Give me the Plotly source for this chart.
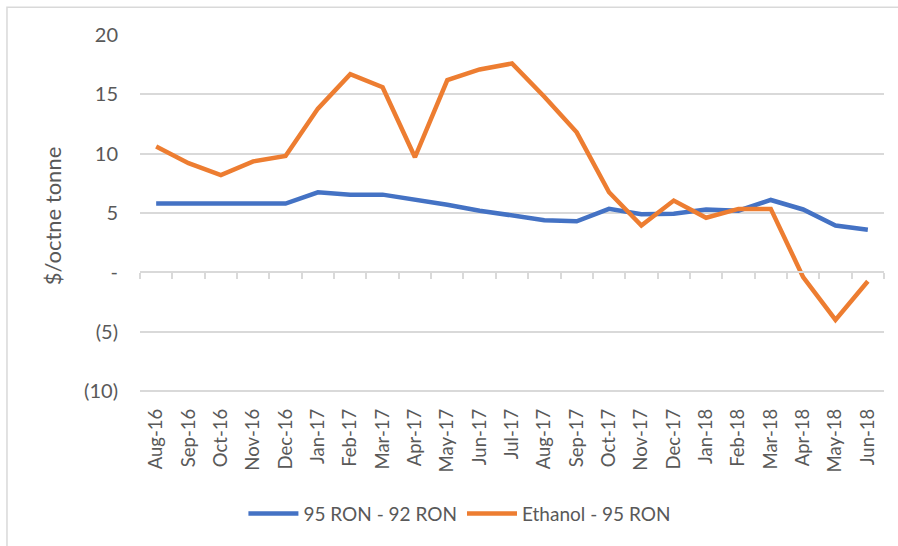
import plotly.graph_objects as go

months = ["Aug-16", "Sep-16", "Oct-16", "Nov-16", "Dec-16", "Jan-17", "Feb-17", "Mar-17",
          "Apr-17", "May-17", "Jun-17", "Jul-17", "Aug-17", "Sep-17", "Oct-17", "Nov-17",
          "Dec-17", "Jan-18", "Feb-18", "Mar-18", "Apr-18", "May-18", "Jun-18"]

ron95_92 = [5.8, 5.8, 5.8, 5.8, 5.8, 6.75, 6.55, 6.55, 6.15, 5.7, 5.2, 4.8, 4.4, 4.3,
            5.35, 4.9, 4.95, 5.3, 5.2, 6.1, 5.3, 3.95, 3.6]

ethanol_95 = [10.6, 9.2, 8.2, 9.35, 9.8, 13.8, 16.7, 15.6, 9.7, 16.2, 17.1, 17.6, 14.8,
              11.8, 6.75, 3.95, 6.05, 4.6, 5.35, 5.35, -0.4, -4.0, -0.75]

y_tickvals = [20, 15, 10, 5, 0, -5, -10]
y_ticktext = ["20", "15", "10", "5", "-", "(5)", "(10)"]

FONT = "Lato"
TXT = "#595959"
GRID = "#d9d9d9"
Y_MIN, Y_MAX = -10.5, 20

fig = go.Figure()
fig.add_trace(go.Scatter(x=months, y=ron95_92, mode="lines", name="95 RON - 92 RON",
                         line=dict(color="#4472C4", width=4.5)))
fig.add_trace(go.Scatter(x=months, y=ethanol_95, mode="lines", name="Ethanol - 95 RON",
                         line=dict(color="#ED7D31", width=4.5)))
# dummy trace for the zero-line axis with boundary ticks
fig.add_trace(go.Scatter(x=months, y=[None] * len(months), xaxis="x2", showlegend=False,
                         hoverinfo="skip", mode="lines"))

fig.update_layout(
    width=898, height=546,
    margin=dict(l=140, r=14, t=35, b=149),
    paper_bgcolor="white", plot_bgcolor="white",
    font=dict(family=FONT, color=TXT, size=18),
    showlegend=True,
    legend=dict(orientation="h", x=0.43, xanchor="center", y=-0.322, yanchor="middle",
                font=dict(size=19, color=TXT), itemwidth=50),
    xaxis=dict(type="category", categoryarray=months, range=[-0.5, len(months) - 0.5],
               tickangle=-90, showgrid=False, zeroline=False, showline=False, ticks="",
               tickfont=dict(size=18.5, color=TXT), ticklabelstandoff=7),
    xaxis2=dict(type="category", categoryarray=months, range=[-0.5, len(months) - 0.5],
                overlaying="x", anchor="free", position=(0 - Y_MIN) / (Y_MAX - Y_MIN),
                showticklabels=False,
                showgrid=False, zeroline=False, showline=True, linecolor=GRID, linewidth=1.5,
                ticks="outside", tickson="boundaries", ticklen=6, tickwidth=1.5,
                tickcolor=GRID),
    yaxis=dict(range=[Y_MIN, Y_MAX], tickvals=y_tickvals, ticktext=y_ticktext,
               showgrid=True, gridcolor=GRID, gridwidth=1.5, zeroline=False, showline=False,
               ticks="", ticklabelstandoff=21, tickfont=dict(size=20, color=TXT),
               title=dict(text="$/octne tonne", font=dict(size=22, color=TXT), standoff=16)),
    shapes=[dict(type="rect", xref="paper", yref="paper", x0=-0.1788, x1=1.05,
                 y0=-0.5, y1=1.077, line=dict(color=GRID, width=1.5), layer="below")],
)

fig.write_html("out.html", config={"displayModeBar": False},
               post_script="document.body.style.margin='0px';")
